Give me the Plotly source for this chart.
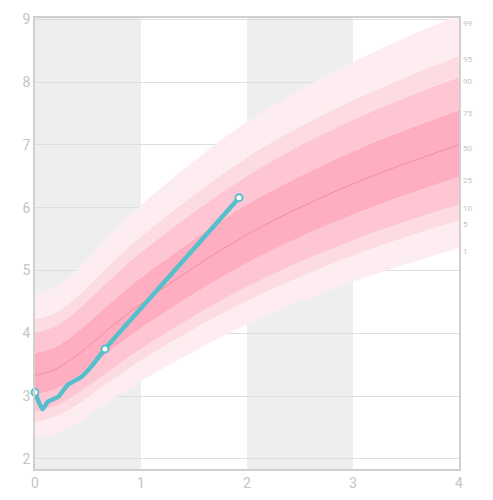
import plotly.graph_objects as go

# WHO weight-for-age reference (kg): birth, week 1, then monthly
months = [0, 0.23, 1, 2, 3, 4]
p01 = [2.33, 2.42, 3.24, 4.14, 4.82, 5.36]
p05 = [2.60, 2.70, 3.57, 4.52, 5.24, 5.80]
p10 = [2.76, 2.87, 3.75, 4.74, 5.48, 6.05]
p25 = [3.03, 3.14, 4.08, 5.12, 5.89, 6.49]
p50 = [3.33, 3.46, 4.47, 5.57, 6.38, 7.00]
p75 = [3.69, 3.82, 4.89, 6.05, 6.90, 7.56]
p90 = [4.01, 4.15, 5.29, 6.51, 7.40, 8.08]
p95 = [4.22, 4.36, 5.54, 6.80, 7.71, 8.42]
p99 = [4.61, 4.77, 6.04, 7.37, 8.32, 9.07]
pct_labels = ["1", "5", "10", "25", "50", "75", "90", "95", "99"]

# child's measurements
age = [0, 0.07, 0.12, 0.22, 0.27, 0.31, 0.44, 0.53, 0.66, 1.30, 1.925]
weight = [3.06, 2.79, 2.91, 2.99, 3.10, 3.18, 3.31, 3.47, 3.75, 4.97, 6.16]
marked = [0, 8, 10]

pale = "#fdedf1"
light = "#fddbe3"
mid = "#fec6d3"
dark = "#ffaec1"
teal = "#56bfcc"
grey_txt = "#c4c4c4"

fig = go.Figure()

bands = [
    (p01, None),
    (p05, pale),
    (p10, light),
    (p25, mid),
    (p75, dark),
    (p90, mid),
    (p95, light),
    (p99, pale),
]
for vals, col in bands:
    fig.add_trace(go.Scatter(
        x=months, y=vals, mode="lines",
        line=dict(width=0, shape="spline"),
        fill="tonexty" if col else None,
        fillcolor=col,
        showlegend=False, hoverinfo="skip",
    ))

fig.add_trace(go.Scatter(
    x=months, y=p50, mode="lines",
    line=dict(width=0.8, color="#e8879d", shape="spline"),
    showlegend=False, hoverinfo="skip",
))

fig.add_trace(go.Scatter(
    x=age, y=weight, mode="lines",
    line=dict(width=4.5, color=teal, shape="spline", smoothing=0.5),
    showlegend=False,
))
fig.add_trace(go.Scatter(
    x=[age[i] for i in marked], y=[weight[i] for i in marked],
    mode="markers",
    marker=dict(size=7, color="white", line=dict(width=2, color=teal)),
    showlegend=False, cliponaxis=False,
))

# percentile labels on the right edge
all_p = [p01, p05, p10, p25, p50, p75, p90, p95, p99]
for lab, vals in zip(pct_labels, all_p):
    fig.add_annotation(
        x=months[-1], y=min(vals[-1], 9.0), text=lab, showarrow=False,
        xanchor="left", yanchor="middle", xshift=2, yshift=-4,
        font=dict(size=8, color=grey_txt),
    )

for x0 in [0, 2]:
    fig.add_shape(
        type="rect", xref="x", yref="paper", x0=x0, x1=x0 + 1, y0=0, y1=1,
        fillcolor="#eeeef1", line=dict(width=0), layer="below",
    )

# page body adds an 8px offset, so the figure is sized to fit inside it
fig.update_layout(
    width=485, height=492,
    margin=dict(l=27, r=34, t=10, b=31),
    paper_bgcolor="white", plot_bgcolor="white",
    font=dict(family="Roboto", color=grey_txt, size=14),
    xaxis=dict(
        range=[0, 4], tickvals=[0, 1, 2, 3, 4], showgrid=False, zeroline=False,
        showline=True, linecolor="#d0d0d0", linewidth=1.5, mirror=True,
        ticks="", tickfont=dict(size=14, color=grey_txt), automargin=False,
    ),
    yaxis=dict(
        range=[1.84, 9.02], tickvals=[2, 3, 4, 5, 6, 7, 8, 9],
        showgrid=True, gridcolor="#dedede", zeroline=False,
        showline=True, linecolor="#d0d0d0", linewidth=1.5, mirror=True,
        ticks="", tickfont=dict(size=14, color=grey_txt), automargin=False,
    ),
)

fig.write_html("out.html")
